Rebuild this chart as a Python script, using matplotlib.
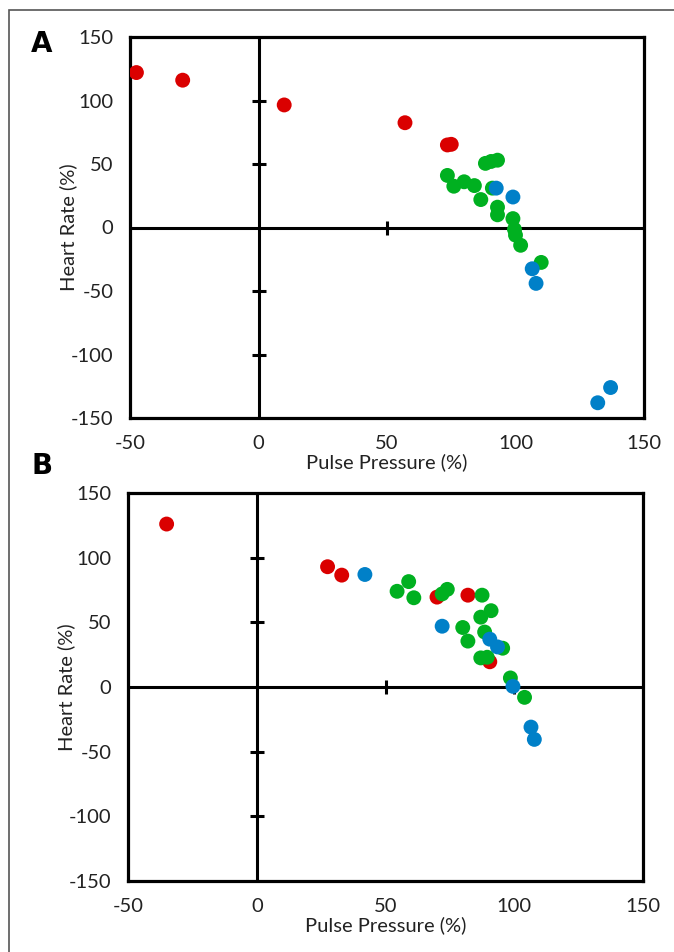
import numpy as np
import matplotlib
matplotlib.use("Agg")
import matplotlib.pyplot as plt
from matplotlib.patches import Rectangle

plt.rcParams["font.family"] = ["Lato", "DejaVu Sans"]
plt.rcParams["font.size"] = 14
plt.rcParams["axes.unicode_minus"] = False

# panel A: (pulse pressure %, heart rate %)
a_red_x = [-47.5, -29.5, 10, 57, 73.5, 75]
a_red_y = [122, 116, 96.5, 82.5, 65, 65.5]
a_green_x = [73.5, 76, 80, 84, 86.5, 88.3, 90.5, 93, 91, 93, 93, 99, 99.6, 100, 102, 110]
a_green_y = [41, 32.5, 36, 33, 22, 50.5, 52, 53, 31, 16, 10, 7, -1.5, -6, -14, -27.5]
a_blue_x = [92.5, 99, 106.5, 108, 132, 137]
a_blue_y = [31, 24, -32.5, -44, -138, -126]

# panel B
b_red_x = [-35, 27.5, 33, 70, 82, 90.5]
b_red_y = [126, 93, 86.5, 69.5, 71, 19.5]
b_green_x = [54.5, 59, 61, 72, 74, 87.5, 91, 87, 80, 82, 88.5, 95.5, 87, 89.5, 98.5, 104]
b_green_y = [74, 81.5, 69, 72, 75.5, 71, 59, 54, 46, 35.5, 42.5, 30, 22.5, 23, 7, -8]
b_blue_x = [42, 72, 90.5, 93.5, 99.5, 106.5, 107.8]
b_blue_y = [87, 47, 37, 31, 0.5, -31, -40.5]

x_ticks = [-50, 0, 50, 100, 150]
y_ticks = [-150, -100, -50, 0, 50, 100, 150]

RED = "#DA0000"
GREEN = "#00B020"
BLUE = "#0080C8"

fig = plt.figure(figsize=(6.74, 9.52), dpi=100)

# outer frame (only top and left edges visible in the crop)
fig.patches.append(Rectangle((9 / 674, -0.1), 1.2, 1 - 10 / 952 + 0.1,
                             transform=fig.transFigure, fill=False,
                             edgecolor="#555555", linewidth=1.2))


def panel(rect, red, green, blue, letter, letter_y):
    ax = fig.add_axes(rect)
    for (xs, ys), c in zip([red, green, blue], [RED, GREEN, BLUE]):
        ax.scatter(xs, ys, s=115, color=c, edgecolors="none", zorder=5)
    ax.axhline(0, color="black", lw=2.2, zorder=2)
    ax.axvline(0, color="black", lw=2.2, zorder=2)
    # small crossing ticks on the zero lines
    ax.plot([0] * 4, [-100, -50, 50, 100], ls="none", marker="_", ms=10,
            mew=2.2, color="black", zorder=2)
    ax.plot([50, 100], [0, 0], ls="none", marker="|", ms=10, mew=2.2,
            color="black", zorder=2)
    ax.set_xlim(-50, 150)
    ax.set_ylim(-150, 150)
    ax.set_xticks(x_ticks)
    ax.set_yticks(y_ticks)
    ax.tick_params(length=0, labelsize=14.5, colors="#222222")
    ax.tick_params(axis="y", pad=12)
    ax.tick_params(axis="x", pad=12)
    for sp in ax.spines.values():
        sp.set_linewidth(2.3)
        sp.set_color("black")
    ax.set_xlabel("Pulse Pressure (%)", fontsize=14.5, labelpad=1, color="#222222")
    ax.set_ylabel("Heart Rate (%)", fontsize=14.5, labelpad=-5, color="#222222")
    fig.text(42 / 674, 1 - letter_y / 952, letter, fontsize=20,
             fontweight="bold", ha="center", va="center",
             family=["DejaVu Sans"])
    return ax


panel([130 / 674, 1 - 418 / 952, 514 / 674, 381 / 952],
      (a_red_x, a_red_y), (a_green_x, a_green_y), (a_blue_x, a_blue_y), "A", 44)
panel([128 / 674, 1 - 881 / 952, 515 / 674, 388 / 952],
      (b_red_x, b_red_y), (b_green_x, b_green_y), (b_blue_x, b_blue_y), "B", 466)

fig.savefig("out.png", dpi=100)
